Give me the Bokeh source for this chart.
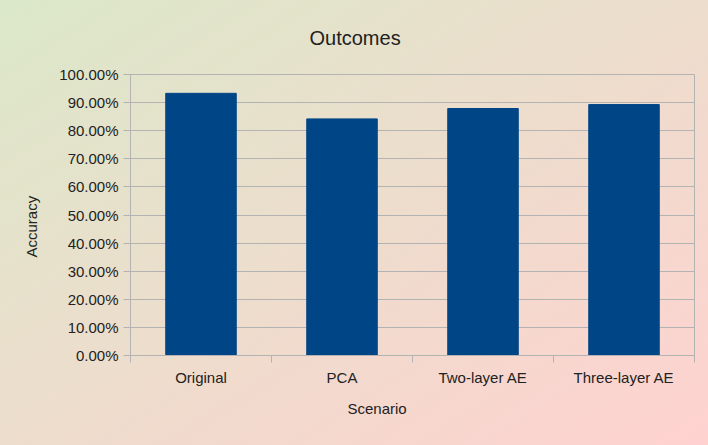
from bokeh.plotting import figure
from bokeh.models import Range1d, FixedTicker, NumeralTickFormatter, Title, ColumnDataSource
from bokeh.embed import file_html
from bokeh.resources import INLINE

# ---- data ----
categories = ["Original", "PCA", "Two-layer AE", "Three-layer AE"]
accuracy = [0.933, 0.842, 0.879, 0.893]
y_ticks = [0.0, 0.1, 0.2, 0.3, 0.4, 0.5, 0.6, 0.7, 0.8, 0.9, 1.0]
chart_title = "Outcomes"
x_title = "Scenario"
y_title = "Accuracy"

GRID = "#b3b3b3"
BAR = "#004586"
TXT = "#222222"
FONT = "Liberation Sans"

idx = list(range(len(categories)))
src = ColumnDataSource(dict(x=idx, top=accuracy, name=categories))

p = figure(width=708, height=445, output_backend="svg", toolbar_location=None,
           x_range=Range1d(-0.5, len(categories) - 0.5), y_range=Range1d(0, 1),
           min_border_left=130, min_border_right=14, min_border_top=74, min_border_bottom=90)

p.vbar(x="x", top="top", width=0.5, source=src, fill_color=BAR, line_color=BAR)

p.background_fill_alpha = 0
p.border_fill_alpha = 0
p.styles = {"background": "linear-gradient(to bottom right, #dbe8c9, #ffd2d0)"}
p.outline_line_color = GRID

# x axis
xa = p.xaxis[0]
xa.ticker = FixedTicker(ticks=idx, minor_ticks=[i - 0.5 for i in range(len(categories) + 1)])
xa.major_label_overrides = {i: c for i, c in zip(idx, categories)}
xa.major_tick_line_color = None
xa.major_tick_out = 7
xa.major_tick_in = 0
xa.minor_tick_line_color = GRID
xa.minor_tick_out = 7
xa.minor_tick_in = 0
xa.axis_line_color = GRID
xa.major_label_standoff = 6
xa.major_label_text_font = FONT
xa.major_label_text_font_size = "15px"
xa.major_label_text_color = TXT

# y axis
ya = p.yaxis[0]
ya.ticker = FixedTicker(ticks=y_ticks)
ya.formatter = NumeralTickFormatter(format="0.00%")
ya.major_tick_line_color = GRID
ya.major_tick_out = 7
ya.major_tick_in = 0
ya.minor_tick_line_color = None
ya.axis_line_color = GRID
ya.major_label_standoff = 5
ya.major_label_text_font = FONT
ya.major_label_text_font_size = "15px"
ya.major_label_text_color = TXT

p.xgrid.grid_line_color = None
p.ygrid.grid_line_color = GRID

# titles
p.add_layout(Title(text=chart_title, align="left", offset=179, text_font=FONT,
                   text_font_size="20px", text_color=TXT, text_font_style="normal",
                   vertical_align="middle", standoff=50), "above")
p.add_layout(Title(text=x_title, align="left", offset=217, text_font=FONT,
                   text_font_size="15px", text_color=TXT, text_font_style="normal",
                   vertical_align="middle", standoff=20), "below")
p.add_layout(Title(text=y_title, align="left", offset=98, text_font=FONT,
                   text_font_size="15px", text_color=TXT, text_font_style="normal",
                   vertical_align="middle", standoff=32), "left")

open("out.html", "w").write(file_html(p, INLINE))
